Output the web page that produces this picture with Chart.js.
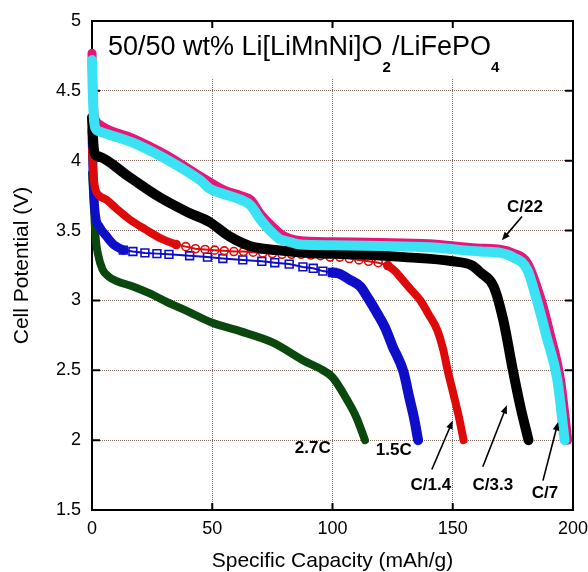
<!DOCTYPE html>
<html>
<head>
<meta charset="utf-8">
<script src="https://cdn.jsdelivr.net/npm/chart.js@4.4.0/dist/chart.umd.min.js"></script>
<style>
  html, body { margin: 0; padding: 0; background: #fff; }
</style>
</head>
<body>
<canvas id="dischargeChart" width="588" height="572"></canvas>
<script>
// discharge curves: capacity (mAh/g) vs cell potential (V)
var c22Cap  = [0, 0.3, 0.8, 1.5, 3, 17, 31, 45, 55, 62, 66, 70, 75, 79, 86, 100, 120, 140, 160, 170, 175, 181, 186.5, 190.5, 194.8, 197.8];
var c22Volt = [4.77, 4.55, 4.34, 4.29, 4.26, 4.16, 4.04, 3.89, 3.79, 3.75, 3.72, 3.62, 3.53, 3.47, 3.43, 3.42, 3.415, 3.405, 3.375, 3.365, 3.34, 3.27, 3.02, 2.76, 2.43, 2.0];

var c7Cap  = [0, 0.3, 0.8, 1.5, 3, 17, 31, 45, 49, 55, 62, 66, 70, 74, 78, 82, 86.5, 100, 120, 140, 161.5, 170, 175, 181, 185, 189, 193.5, 196.5];
var c7Volt = [4.72, 4.5, 4.3, 4.23, 4.21, 4.13, 4.01, 3.86, 3.80, 3.76, 3.72, 3.68, 3.58, 3.5, 3.44, 3.42, 3.40, 3.395, 3.39, 3.38, 3.35, 3.34, 3.31, 3.22, 3.0, 2.74, 2.43, 2.0];

var c33Cap  = [0, 0.3, 0.8, 1.5, 3, 15, 28, 40, 49, 57, 65.6, 77, 90, 110, 130, 150, 158, 161.5, 167, 171, 175, 178, 181.5];
var c33Volt = [4.31, 4.2, 4.08, 4.04, 4.03, 3.89, 3.74, 3.63, 3.56, 3.46, 3.39, 3.36, 3.34, 3.33, 3.31, 3.28, 3.25, 3.2, 3.1, 2.86, 2.5, 2.25, 2.0];

var c14Cap  = [0, 0.3, 0.8, 1.5, 3, 6, 10, 15.6, 22, 29, 35];
var c14Volt = [4.08, 3.98, 3.86, 3.79, 3.75, 3.72, 3.66, 3.58, 3.51, 3.44, 3.40];
var c14MarkCap  = [35, 39, 43, 47, 51, 55, 59, 63, 67, 71, 75, 79, 83, 87, 91, 95, 99, 103, 107, 111, 115, 119, 123];
var c14MarkVolt = [3.40, 3.385, 3.37, 3.365, 3.36, 3.355, 3.35, 3.35, 3.345, 3.34, 3.335, 3.33, 3.33, 3.33, 3.325, 3.32, 3.31, 3.31, 3.30, 3.29, 3.28, 3.27, 3.25];
var c14TailCap  = [123, 126, 128, 132, 136.5, 140, 143.5, 146, 148, 150, 152.5, 154.5];
var c14TailVolt = [3.25, 3.21, 3.17, 3.09, 3.0, 2.9, 2.79, 2.65, 2.49, 2.35, 2.17, 2.0];

var r15Cap  = [0, 0.3, 0.8, 1.5, 3, 6, 9, 13];
var r15Volt = [4.22, 4.0, 3.75, 3.6, 3.53, 3.46, 3.4, 3.36];
var r15MarkCap  = [13, 17, 22, 27, 32, 40.6, 48, 54.4, 62.7, 70.6, 76, 82, 87.7, 92, 96, 100];
var r15MarkVolt = [3.36, 3.35, 3.34, 3.335, 3.33, 3.32, 3.31, 3.30, 3.29, 3.28, 3.27, 3.26, 3.24, 3.23, 3.21, 3.2];
var r15TailCap  = [100, 103, 107, 111.5, 115, 118.5, 122, 125, 129.5, 132, 134, 135.6];
var r15TailVolt = [3.2, 3.19, 3.15, 3.1, 3.01, 2.91, 2.8, 2.67, 2.49, 2.3, 2.15, 2.0];

var r27Cap  = [0, 0.5, 1, 1.5, 2.5, 4.4, 7, 10, 17, 24, 31, 40, 50, 61.5, 75, 89, 95, 100, 106, 110, 113.5];
var r27Volt = [3.91, 3.75, 3.6, 3.45, 3.33, 3.22, 3.17, 3.14, 3.1, 3.05, 2.99, 2.92, 2.84, 2.78, 2.70, 2.56, 2.51, 2.45, 2.29, 2.16, 2.0];

var xTicks = [0, 50, 100, 150, 200];
var yTicks = [1.5, 2, 2.5, 3, 3.5, 4, 4.5, 5];

// rate labels with their arrows (data coordinates)
var rateLabels = [
  { text: 'C/22',  x: 180.0, y: 3.67, arrow: [178.8, 3.60, 170.4, 3.43] },
  { text: '2.7C',  x: 91.8,  y: 1.94 },
  { text: '1.5C',  x: 125.5, y: 1.93 },
  { text: 'C/1.4', x: 140.9, y: 1.68, arrow: [141.3, 1.79, 150.0, 2.14] },
  { text: 'C/3.3', x: 166.7, y: 1.68, arrow: [162.5, 1.81, 172.5, 2.25] },
  { text: 'C/7',   x: 188.3, y: 1.62, arrow: [187.5, 1.71, 193.8, 2.13] }
];

var FONT = "'Liberation Sans', Arial, sans-serif";

function pts(cap, volt) {
  return cap.map(function (c, i) { return { x: c, y: volt[i] }; });
}

function band(data, color, width, order) {
  return {
    data: data, showLine: true, borderColor: color, borderWidth: width,
    pointRadius: 0, order: order, clip: false,
    cubicInterpolationMode: 'monotone', borderJoinStyle: 'round', borderCapStyle: 'round'
  };
}

function marked(data, color, style, radius, order) {
  return {
    data: data, showLine: true, borderColor: color, borderWidth: 2,
    pointStyle: style, pointRadius: radius, pointBorderWidth: 1.6,
    pointBorderColor: color, pointBackgroundColor: 'rgba(255,255,255,0)',
    order: order, clip: false
  };
}

function arrowLine(ctx, x0, y0, x1, y1) {
  var ang = Math.atan2(y1 - y0, x1 - x0), len = 9;
  ctx.beginPath();
  ctx.moveTo(x0, y0);
  ctx.lineTo(x1 - Math.cos(ang) * len * 0.8, y1 - Math.sin(ang) * len * 0.8);
  ctx.stroke();
  ctx.beginPath();
  ctx.moveTo(x1, y1);
  ctx.lineTo(x1 - len * Math.cos(ang - 0.38), y1 - len * Math.sin(ang - 0.38));
  ctx.lineTo(x1 - len * Math.cos(ang + 0.38), y1 - len * Math.sin(ang + 0.38));
  ctx.closePath();
  ctx.fill();
}

var framePlugin = {
  id: 'framePlugin',
  beforeDatasetsDraw: function (chart) {
    var ctx = chart.ctx, a = chart.chartArea;
    var xs = chart.scales.x, ys = chart.scales.y;
    ctx.save();
    // blank area behind the heading
    ctx.fillStyle = '#fff';
    ctx.fillRect(a.left + 1, a.top + 1, 420, 56);
    ctx.strokeStyle = '#000';
    ctx.lineWidth = 2;
    ctx.strokeRect(a.left, a.top, a.right - a.left, a.bottom - a.top);
    ctx.beginPath();
    xTicks.forEach(function (v) {
      var px = xs.getPixelForValue(v);
      ctx.moveTo(px, a.bottom); ctx.lineTo(px, a.bottom - 7);
      ctx.moveTo(px, a.top); ctx.lineTo(px, a.top + 7);
    });
    yTicks.forEach(function (v) {
      var py = ys.getPixelForValue(v);
      ctx.moveTo(a.left, py); ctx.lineTo(a.left + 8, py);
      ctx.moveTo(a.right, py); ctx.lineTo(a.right - 8, py);
    });
    ctx.stroke();
    ctx.restore();
  },
  afterDatasetsDraw: function (chart) {
    var ctx = chart.ctx, a = chart.chartArea;
    var xs = chart.scales.x, ys = chart.scales.y;
    ctx.save();
    ctx.fillStyle = '#000';
    ctx.textBaseline = 'alphabetic';
    ctx.textAlign = 'left';
    // heading with subscripts
    var parts = [['50/50 wt% Li[LiMnNi]O', false], ['2', true], ['/LiFePO', false], ['4', true]];
    var x = a.left + 16, base = a.top + 34;
    parts.forEach(function (p) {
      ctx.font = p[1] ? 'bold 15px ' + FONT : '27px ' + FONT;
      ctx.fillText(p[0], x, p[1] ? base + 17 : base);
      x += ctx.measureText(p[0]).width + (p[1] ? 1 : 0);
    });
    // rate labels
    ctx.font = 'bold 17px ' + FONT;
    ctx.textAlign = 'center';
    ctx.textBaseline = 'middle';
    ctx.strokeStyle = '#000';
    ctx.lineWidth = 1.6;
    rateLabels.forEach(function (l) {
      ctx.fillText(l.text, xs.getPixelForValue(l.x), ys.getPixelForValue(l.y));
      if (l.arrow) {
        arrowLine(ctx, xs.getPixelForValue(l.arrow[0]), ys.getPixelForValue(l.arrow[1]),
                  xs.getPixelForValue(l.arrow[2]), ys.getPixelForValue(l.arrow[3]));
      }
    });
    ctx.restore();
  }
};

var ctx = document.getElementById('dischargeChart').getContext('2d');
var dischargeChart = new Chart(ctx, {
  type: 'scatter',
  data: {
    datasets: [
      band(pts(c7Cap, c7Volt), 'rgb(58, 226, 244)', 10, 0),
      band(pts(c22Cap, c22Volt), 'rgb(232, 22, 120)', 9, 1),
      band(pts(c33Cap, c33Volt), '#000000', 10, 2),
      band(pts(c14Cap, c14Volt), 'rgb(222, 10, 10)', 8, 3),
      marked(pts(c14MarkCap, c14MarkVolt), 'rgb(222, 10, 10)', 'circle', 4, 3),
      band(pts(c14TailCap, c14TailVolt), 'rgb(222, 10, 10)', 8, 3),
      band(pts(r15Cap, r15Volt), 'rgb(14, 14, 200)', 9, 4),
      marked(pts(r15MarkCap, r15MarkVolt), 'rgb(14, 14, 200)', 'rect', 5.5, 4),
      band(pts(r15TailCap, r15TailVolt), 'rgb(14, 14, 200)', 10, 4),
      band(pts(r27Cap, r27Volt), 'rgb(10, 72, 14)', 8, 5)
    ]
  },
  options: {
    responsive: false,
    animation: false,
    devicePixelRatio: 1,
    layout: { padding: { top: 21, right: 15, left: 0, bottom: 0 } },
    plugins: { legend: { display: false }, tooltip: { enabled: false } },
    scales: {
      x: {
        type: 'linear', min: 0, max: 200,
        afterBuildTicks: function (s) { s.ticks = xTicks.map(function (v) { return { value: v }; }); },
        afterFit: function (s) { s.height = 62; s.paddingLeft = 0; s.paddingRight = 0; },
        ticks: { color: '#000', padding: 8, font: { family: FONT, size: 18 } },
        grid: { color: 'rgba(120, 92, 80, 0.9)', lineWidth: 1, drawTicks: false },
        border: { display: false, dash: [1, 1] },
        title: {
          display: true, text: 'Specific Capacity (mAh/g)', color: '#000',
          font: { family: FONT, size: 21, lineHeight: 1 }, padding: { top: 0, bottom: 0 }
        }
      },
      y: {
        type: 'linear', min: 1.5, max: 5,
        afterBuildTicks: function (s) { s.ticks = yTicks.map(function (v) { return { value: v }; }); },
        afterFit: function (s) { s.width = 92; s.paddingTop = 0; s.paddingBottom = 0; },
        ticks: {
          color: '#000', padding: 11, font: { family: FONT, size: 18 },
          callback: function (v) { return String(v); }
        },
        grid: { color: 'rgba(120, 92, 80, 0.9)', lineWidth: 1, drawTicks: false },
        border: { display: false, dash: [1, 1] },
        title: {
          display: true, text: 'Cell Potential (V)', color: '#000',
          font: { family: FONT, size: 21, lineHeight: 1 }, padding: { top: 12, bottom: 0 }
        }
      }
    }
  },
  plugins: [framePlugin]
});
</script>
</body>
</html>
